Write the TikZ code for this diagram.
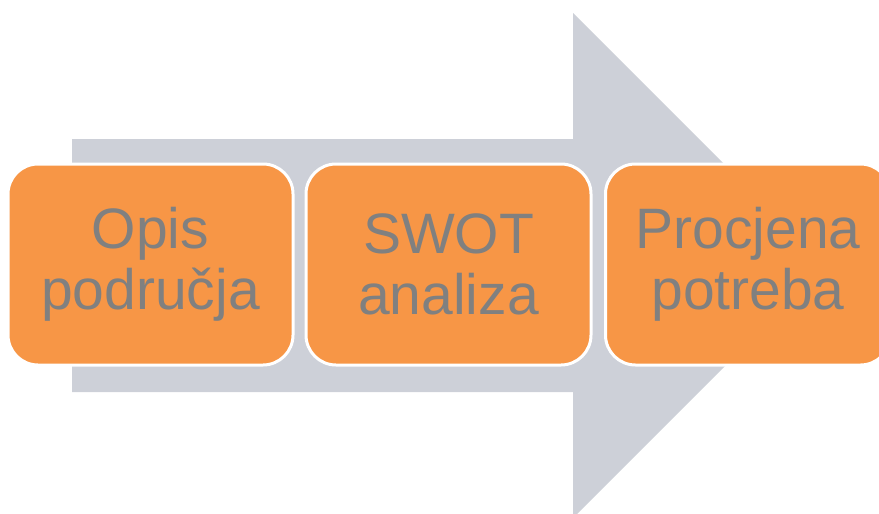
\documentclass[tikz,border=0pt]{standalone}
\usepackage{fontspec}
\setmainfont{Liberation Sans}
\definecolor{arrowgray}{RGB}{205,208,216}
\definecolor{boxorange}{RGB}{247,150,70}
\definecolor{textgray}{RGB}{128,128,128}
\tikzset{
  stepbox/.style={rectangle, rounded corners=30pt, minimum width=285pt, minimum height=201pt,
    draw=white, line width=3pt, fill=boxorange, text=textgray, align=center,
    font=\fontsize{57}{61}\selectfont, inner sep=0pt}
}
\begin{document}
\begin{tikzpicture}[x=1pt,y=-1pt]
\useasboundingbox (0,0) rectangle (879,514);
\clip (0,0) rectangle (879,514);
\fill[arrowgray] (72,139) -- (573,139) -- (573,13) -- (825.5,265.5) -- (573,518) -- (573,392) -- (72,392) -- cycle;
\node[stepbox] (b1) at (150.5,264.5) {Opis\\područja};
\node[stepbox] (b2) at (448.5,264.5) {SWOT\\analiza};
\node[stepbox] (b3) at (748,264.5) {Procjena\\potreba};
\end{tikzpicture}
\end{document}
